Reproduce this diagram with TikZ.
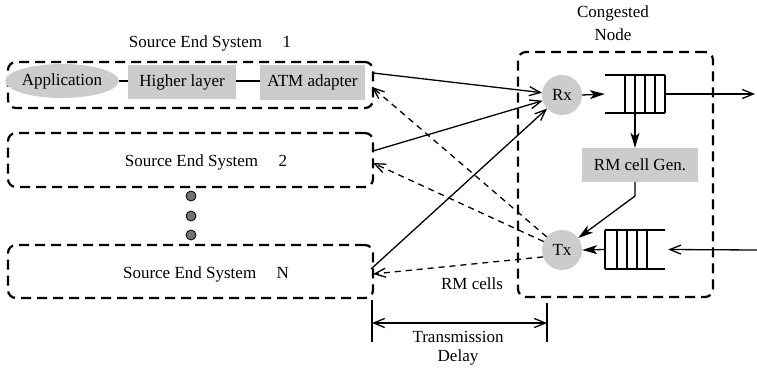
\documentclass[tikz,border=0pt]{standalone}
\usepackage{fontspec}
\setmainfont{Liberation Serif}
\usetikzlibrary{arrows.meta,calc,shapes.geometric}
\definecolor{boxgray}{RGB}{204,204,204}
\definecolor{dotgray}{RGB}{115,115,115}
\begin{document}
\begin{tikzpicture}[x=1pt,y=-1pt,
  font=\fontsize{17}{19}\selectfont,
  sysbox/.style={draw,line width=2.2pt,rounded corners=8pt,dash pattern=on 10pt off 6pt,inner sep=0pt},
  graybox/.style={fill=boxgray,inner sep=0pt},
  roundbox/.style={circle,fill=boxgray,minimum size=40pt,inner sep=0pt},
  dotnode/.style={circle,draw,line width=0.8pt,fill=dotgray,minimum size=10pt,inner sep=0pt},
  conn/.style={line width=1.3pt},
  qline/.style={line width=1.7pt},
  dconn/.style={line width=1.3pt,dash pattern=on 6pt off 5pt},
  openhead/.style={-{Straight Barb[length=11pt,width=9pt]}},
  fillhead/.style={-{Stealth[length=15pt,width=9pt,inset=4pt]}},
  plain/.style={inner sep=0pt}
]
\useasboundingbox (0,0) rectangle (757,369);

% source end systems
\node[sysbox, minimum width=365pt, minimum height=46pt] (s1) at (190.5,85) {};
\node[plain] (s1lbl) at (210,43) {Source End System\hspace{1.2em}1};
\node[ellipse, fill=boxgray, minimum width=93pt, minimum height=34pt, inner sep=0pt] (app) at (62,81) {Application};
\node[graybox, minimum width=108pt, minimum height=34pt] (hl) at (182,82) {Higher layer};
\node[graybox, minimum width=105pt, minimum height=35pt] (atm) at (312.5,82.5) {ATM adapter};
\draw[line width=1.8pt] (app.east) -- (app.east -| hl.west);
\draw[line width=1.8pt] (hl.east |- app.east) -- (app.east -| atm.west);

\node[sysbox, minimum width=365pt, minimum height=54pt] (s2) at (190.5,160) {};
\node[plain] (s2lbl) at (206,162) {Source End System\hspace{1.2em}2};

\node[dotnode] (d1) at (191,196) {};
\node[dotnode] (d2) at (191,216) {};
\node[dotnode] (d3) at (191,235) {};

\node[sysbox, minimum width=365pt, minimum height=53pt] (sN) at (190.5,271.5) {};
\node[plain] (sNlbl) at (206,274) {Source End System\hspace{1.2em}N};

% congested node
\node[sysbox, minimum width=195pt, minimum height=245pt] (cn) at (615.5,174.5) {};
\node[plain] (cnl1) at (613,13) {Congested};
\node[plain] (cnl2) at (613,35) {Node};

\node[roundbox] (rx) at (562,95) {Rx};
\node[roundbox] (tx) at (562,250) {Tx};

% queue 1
\node[minimum width=60pt, minimum height=38pt, inner sep=0pt] (q1) at (635,94) {};
\draw[qline] (q1.north west) -- (q1.north east) (q1.south west) -- (q1.south east);
\foreach \x in {625,635,645,655,665} \draw[qline] (\x,75) -- (\x,113);

% queue 2
\node[minimum width=60pt, minimum height=39pt, inner sep=0pt] (q2) at (635,249.5) {};
\draw[qline] (q2.north west) -- (q2.north east) (q2.south west) -- (q2.south east);
\foreach \x in {605,617,627,637,647} \draw[qline] (\x,230) -- (\x,269);

\node[graybox, minimum width=116pt, minimum height=34pt] (rmg) at (640,165) {RM cell Gen.};

% internal arrows
\draw[conn, fillhead] (rx.east) -- (q1.west);
\coordinate (out1) at (755,94);
\draw[conn, openhead] (q1.east) -- (out1);
\draw[conn, fillhead] (q1.south) -- (q1.south |- rmg.north);
\coordinate (bend) at (635,196);
\draw[conn, fillhead] (q1.south |- rmg.south) -- (bend) -- (tx);
\draw[conn, fillhead] (q2.west) -- (tx.east);
\coordinate (in2) at (757,250);
\draw[conn, openhead] (in2) -- ([xshift=3pt]q2.east);

% links
\coordinate (a1) at (373,73);
\coordinate (a2) at (373,151);
\coordinate (a3) at (371,269);
\coordinate (b1) at (372,87);
\coordinate (b2) at (373,163);
\coordinate (b3) at (373,274);
\draw[conn, openhead] (a1) -- (rx);
\draw[conn, openhead] (a2) -- (rx);
\draw[conn, openhead] (a3) -- (rx);
\draw[dconn, openhead] (tx) -- (b1);
\draw[dconn, openhead] (tx) -- (b2);
\draw[dconn, openhead] (tx.200) -- (b3);
\node[plain] (rmc) at (472,284) {RM cells};

% transmission delay
\coordinate (t1a) at (372,300);
\coordinate (t1b) at (372,342);
\coordinate (t2a) at (547,303);
\coordinate (t2b) at (547,342);
\coordinate (td1) at (372,323);
\coordinate (td2) at (547,323);
\draw[conn] (t1a) -- (t1b);
\draw[conn] (t2a) -- (t2b);
\draw[conn, {Straight Barb[length=11pt,width=9pt]}-{Straight Barb[length=11pt,width=9pt]}] (td1) -- (td2);
\node[plain] (tdl1) at (458,337) {Transmission};
\node[plain] (tdl2) at (458,357) {Delay};
\end{tikzpicture}
\end{document}
